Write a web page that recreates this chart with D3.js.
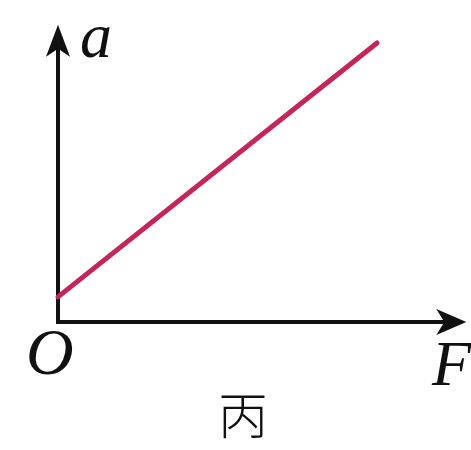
<!DOCTYPE html>
<html>
<head>
<meta charset="utf-8">
<script src="https://cdn.jsdelivr.net/npm/d3@7"></script>
<style>
  html, body { margin: 0; padding: 0; background: #fff; }
  svg { display: block; }
  .lbl { font-family: "Liberation Serif", "DejaVu Serif", serif; font-style: italic; fill: #111; }
  .cap { font-family: "Noto Sans CJK SC", sans-serif; font-weight: 300; fill: #111; }
</style>
</head>
<body>
<div id="chart"></div>
<script>
// a-F graph: straight line with positive intercept
const forceF = [0, 10];
const accelA = [0.9, 10];
const axisMax = { F: 12.8, a: 10.65 };

const W = 471, H = 450;

const svg = d3.select("#chart").append("svg")
  .attr("width", W)
  .attr("height", H)
  .attr("viewBox", `0 0 ${W} ${H}`);

const x = d3.scaleLinear().domain([0, 10]).range([58, 377]);
const y = d3.scaleLinear().domain([0, 10]).range([322, 43]);

const pts = forceF.map((f, i) => ({ F: f, a: accelA[i] }));

// axes
svg.append("line")
  .attr("x1", x(0)).attr("y1", y(0))
  .attr("x2", x(axisMax.F) - 20).attr("y2", y(0))
  .attr("stroke", "#111").attr("stroke-width", 4);

svg.append("line")
  .attr("x1", x(0)).attr("y1", y(0) + 2)
  .attr("x2", x(0)).attr("y2", y(axisMax.a) + 20)
  .attr("stroke", "#111").attr("stroke-width", 4);

// arrow heads
const xt = x(axisMax.F), yt = y(axisMax.a);
svg.append("path")
  .attr("d", `M${xt},${y(0)} L${xt - 30},${y(0) - 13} L${xt - 22},${y(0)} L${xt - 30},${y(0) + 13} Z`)
  .attr("fill", "#111");
svg.append("path")
  .attr("d", `M${x(0)},${yt} L${x(0) - 12},${yt + 32} L${x(0)},${yt + 24} L${x(0) + 12},${yt + 32} Z`)
  .attr("fill", "#111");

// data line
const line = d3.line().x(d => x(d.F)).y(d => y(d.a));
svg.append("path")
  .datum(pts)
  .attr("d", line)
  .attr("fill", "none")
  .attr("stroke", "#c6245c")
  .attr("stroke-width", 5)
  .attr("stroke-linecap", "round");

// labels
svg.append("text").attr("class", "lbl")
  .attr("x", 80).attr("y", 57)
  .attr("font-size", 64).text("a");

svg.append("text").attr("class", "lbl")
  .attr("x", 26).attr("y", 374)
  .attr("font-size", 66).text("O");

svg.append("text").attr("class", "lbl")
  .attr("x", 432).attr("y", 385)
  .attr("font-size", 64).text("F");

svg.append("text").attr("class", "cap")
  .attr("x", 243).attr("y", 434)
  .attr("text-anchor", "middle")
  .attr("font-size", 50).text("丙");
</script>
</body>
</html>
